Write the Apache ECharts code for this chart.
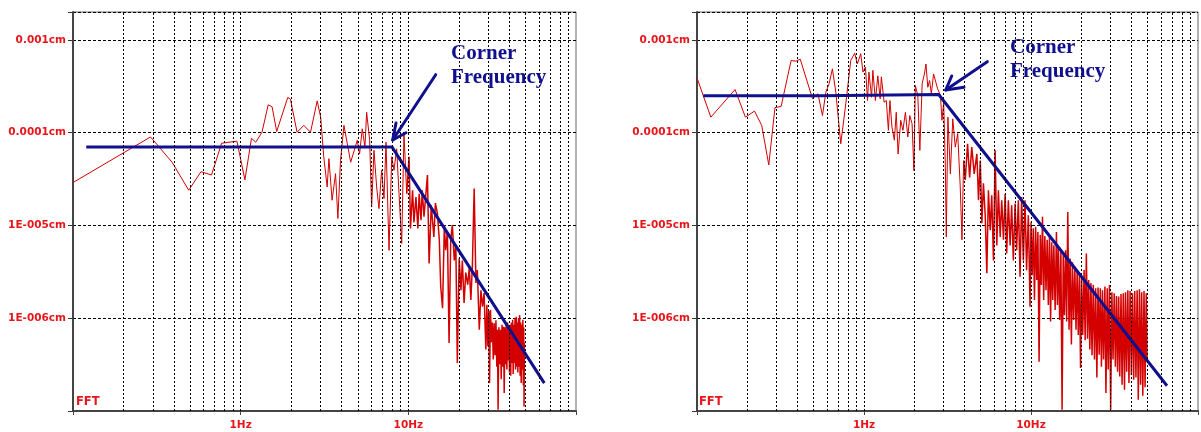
<!DOCTYPE html>
<html>
<head>
  <meta charset="utf-8" />
  <title>FFT Corner Frequency</title>
  <script src="https://cdn.jsdelivr.net/npm/echarts@6.0.0/dist/echarts.min.js"></script>
  <style>
    html, body { margin: 0; padding: 0; background: #ffffff; }
    #main { width: 1201px; height: 432px; }
  </style>
</head>
<body>
<div id="main"></div>
<script>
  // axis tick labels
  var xTickValues = [1, 10];
  var xTickLabels = ['1Hz', '10Hz'];
  var yTickValues = [1e-3, 1e-4, 1e-5, 1e-6];
  var yTickLabels = ['0.001cm', '0.0001cm', '1E-005cm', '1E-006cm'];
  // vertical grid: 1..9 of every decade
  var gridFreqs = [0.2, 0.3, 0.4, 0.5, 0.6, 0.7, 0.8, 0.9,
                   1, 2, 3, 4, 5, 6, 7, 8, 9,
                   10, 20, 30, 40, 50, 60, 70, 80, 90];

  // left record: FFT amplitude [Hz, cm]
  var leftSpectrum = [
    [0.1, 2.9e-5], [0.29, 9.0e-5], [0.39, 4.8e-5], [0.49, 2.4e-5], [0.58, 3.8e-5], [0.67, 3.5e-5],
    [0.77, 7.7e-5], [0.95, 8.1e-5], [1.06, 3.1e-5], [1.16, 8.7e-5], [1.23, 7.9e-5], [1.34, 1.01e-4],
    [1.46, 2.0e-4], [1.54, 1.9e-4], [1.64, 1.03e-4], [1.91, 2.4e-4], [1.98, 2.3e-4], [2.17, 1.01e-4],
    [2.38, 1.2e-4], [2.61, 1.01e-4], [2.86, 2.2e-4], [3.0, 1.47e-4], [3.13, 5.5e-5], [3.28, 2.6e-5],
    [3.36, 5.25e-5], [3.51, 1.87e-5], [3.68, 3.62e-5], [3.8, 1.19e-5], [3.94, 5.0e-5], [4.13, 1.2e-4],
    [4.53, 4.8e-5], [4.96, 8.3e-5], [5.12, 5.9e-5], [5.31, 1.1e-4], [5.51, 7.0e-5], [5.64, 1.66e-4],
    [5.88, 8.3e-5], [6.04, 1.58e-5], [6.24, 6.45e-5], [6.47, 2.6e-5], [6.68, 1.52e-5], [6.93, 3.94e-5],
    [7.16, 1.95e-5], [7.36, 7.9e-5], [7.67, 5.4e-6], [7.96, 5.5e-5], [8.21, 3.94e-5], [8.52, 6.7e-5],
    [8.8, 2.2e-5], [9.13, 6.4e-6], [9.42, 9.8e-5], [9.78, 2.2e-5], [10.1, 5.5e-5], [10.3, 9.3e-6],
    [10.6, 2.4e-5], [10.8, 1.08e-5], [11.1, 2.03e-5], [11.4, 9.3e-6], [11.6, 2.2e-5], [11.9, 1.14e-5],
    [12.1, 2.4e-5], [12.4, 1.24e-5], [13.0, 3.5e-5], [13.3, 3.9e-6], [13.7, 1.65e-5], [14.2, 7.5e-6],
    [14.5, 1.74e-5], [14.9, 1.36e-5], [15.3, 7.0e-6], [15.6, 2.2e-6], [16.0, 1.28e-6], [16.4, 1.01e-5],
    [16.7, 5.4e-6], [17.1, 8.5e-6], [17.5, 5.4e-7], [17.9, 7.0e-6], [18.3, 1.01e-5], [18.8, 4.2e-6],
    [19.2, 6.1e-6], [19.6, 3.3e-7], [20.1, 4.4e-6], [20.6, 2.0e-6], [21.0, 4.2e-6], [21.5, 1.46e-6],
    [22.0, 3.1e-6], [22.6, 2.3e-6], [23.1, 3.5e-6], [23.6, 1.57e-6], [24.1, 3.7e-6], [24.7, 2.5e-5],
    [25.3, 2.4e-6], [25.8, 3.3e-6], [26.5, 7.5e-7], [27.1, 2.0e-6], [27.7, 1.33e-6], [28.3, 1.87e-6],
    [29.0, 4.6e-7], [29.4, 1.4e-6], [29.8, 5.0e-7], [30.2, 1.2e-6], [30.5, 2.0e-7], [30.9, 1.23e-6],
    [31.3, 5.5e-7], [31.7, 9.0e-7], [32.1, 3.6e-7], [32.5, 8.8e-7], [32.9, 4.0e-7], [33.3, 9.5e-7],
    [33.7, 3.0e-7], [34.0, 7.5e-7], [34.3, 1.03e-7], [34.7, 8.0e-7], [35.1, 3.2e-7], [35.5, 7.5e-7],
    [35.8, 2.2e-7], [36.2, 8.5e-7], [36.6, 3.0e-7], [37.0, 8.1e-7], [37.3, 1.56e-7], [37.7, 8.0e-7],
    [38.0, 3.2e-7], [38.4, 8.5e-7], [38.7, 2.8e-7], [39.1, 9.0e-7], [39.4, 3.5e-7], [39.8, 7.5e-7],
    [40.1, 2.6e-7], [40.5, 8.5e-7], [40.8, 2.4e-7], [41.2, 9.0e-7], [41.5, 3.3e-7], [41.9, 9.6e-7],
    [42.2, 2.5e-7], [42.6, 8.5e-7], [42.9, 3.3e-7], [43.3, 1.0e-6], [43.6, 2.8e-7], [44.0, 1.04e-6],
    [44.3, 3.0e-7], [44.7, 9.0e-7], [45.0, 2.6e-7], [45.4, 1.0e-6], [45.7, 3.0e-7], [46.1, 1.08e-6],
    [46.4, 2.4e-7], [46.8, 9.0e-7], [47.1, 2.0e-7], [47.5, 8.5e-7], [47.8, 2.8e-7], [48.2, 9.6e-7],
    [48.5, 1.9e-7], [48.8, 8.0e-7], [49.0, 1.12e-7], [49.2, 5.4e-7]
  ];
  // left record: fitted source model (flat level + corner)
  var leftModel = [[0.12, 7.0e-5], [8.0, 7.0e-5], [64.7, 2.0e-7]];

  // right record: FFT amplitude [Hz, cm]
  var rightSpectrum = [
    [0.1, 3.9e-4], [0.121, 1.47e-4], [0.169, 2.92e-4], [0.195, 1.47e-4], [0.221, 1.71e-4], [0.244, 1.2e-4],
    [0.269, 4.5e-5], [0.293, 1.86e-4], [0.319, 1.92e-4], [0.366, 6.0e-4], [0.392, 5.9e-4], [0.415, 6.2e-4],
    [0.492, 2.32e-4], [0.53, 2.63e-4], [0.564, 1.53e-4], [0.591, 2.73e-4], [0.618, 3.37e-4], [0.647, 4.88e-4],
    [0.678, 2.73e-4], [0.726, 7.6e-5], [0.778, 2.05e-4], [0.833, 6.0e-4], [0.88, 7.2e-4], [0.912, 5.5e-4],
    [0.956, 7.1e-4], [0.986, 4.5e-4], [1.02, 5.1e-4], [1.05, 2.22e-4], [1.07, 4.5e-4], [1.11, 2.41e-4],
    [1.13, 4.7e-4], [1.17, 2.22e-4], [1.21, 4.1e-4], [1.25, 2.32e-4], [1.27, 4.0e-4], [1.32, 2.13e-4],
    [1.36, 2.22e-4], [1.4, 1.06e-4], [1.43, 2.22e-4], [1.47, 1.15e-4], [1.52, 8.3e-5], [1.56, 1.66e-4],
    [1.6, 5.9e-5], [1.66, 1.36e-4], [1.71, 1.06e-4], [1.77, 1.66e-4], [1.83, 9.0e-5], [1.88, 1.53e-4],
    [1.94, 1.25e-4], [1.99, 3.9e-5], [2.03, 3.23e-4], [2.1, 2.52e-4], [2.16, 6.45e-5], [2.23, 3.37e-4],
    [2.3, 4.3e-4], [2.35, 5.5e-4], [2.41, 3.09e-4], [2.47, 3.65e-4], [2.53, 2.63e-4], [2.61, 4.3e-4],
    [2.68, 4.5e-4], [2.76, 2.97e-4], [2.87, 2.52e-4], [2.93, 1.36e-4], [3.0, 2.13e-4], [3.07, 4.3e-5],
    [3.11, 7.5e-6], [3.18, 1.47e-4], [3.29, 3.6e-5], [3.4, 1.41e-4], [3.52, 7.0e-5], [3.64, 9.8e-5],
    [3.77, 2.6e-5], [3.86, 7.0e-6], [3.95, 5.0e-5], [4.04, 3.1e-5], [4.17, 7.6e-5], [4.29, 3.3e-5],
    [4.42, 7.0e-5], [4.57, 3.6e-5], [4.74, 5.9e-5], [4.85, 1.87e-5], [4.97, 5.0e-5], [5.08, 1.06e-5],
    [5.19, 2.85e-5], [5.32, 1.29e-5], [5.44, 3.05e-6], [5.56, 2.4e-5], [5.7, 8.9e-6], [5.82, 2.12e-5],
    [5.96, 4.2e-6], [6.1, 6.45e-5], [6.24, 6.1e-6], [6.38, 2.4e-5], [6.54, 7.5e-6], [6.68, 1.87e-5],
    [6.84, 7.0e-6], [7.0, 2.2e-5], [7.15, 5.0e-6], [7.32, 1.87e-5], [7.5, 6.1e-6], [7.66, 1.65e-5],
    [7.84, 4.2e-6], [8.03, 1.72e-5], [8.2, 5.4e-6], [8.4, 1.87e-5], [8.6, 2.8e-6], [8.79, 2.03e-5],
    [9.0, 4.2e-6], [9.21, 1.87e-5], [9.41, 3.3e-6], [9.64, 1.29e-5], [9.87, 1.33e-6],
    [10.0, 1.08e-5], [10.16, 2.9e-6], [10.32, 9.3e-6], [10.49, 1.57e-6], [10.66, 9.7e-6], [10.83, 2.58e-6],
    [11.0, 8.5e-6], [11.18, 3.4e-7], [11.36, 7.9e-6], [11.54, 2.28e-6], [11.72, 1.24e-5], [11.91, 1.57e-6],
    [12.1, 7.7e-6], [12.3, 2.0e-6], [12.5, 7.0e-6], [12.7, 1.39e-6], [12.9, 7.5e-6], [13.1, 9.2e-7],
    [13.3, 6.6e-6], [13.5, 1.57e-6], [13.7, 6.1e-6], [13.95, 1.23e-6], [14.2, 8.5e-6], [14.4, 1.39e-6],
    [14.6, 5.7e-6], [14.85, 9.6e-7], [15.1, 5.4e-6], [15.35, 1.03e-7], [15.6, 4.8e-6], [15.85, 1.08e-6],
    [16.1, 5.4e-6], [16.35, 9.2e-7], [16.6, 1.4e-5], [16.9, 7.5e-7], [17.15, 4.4e-6], [17.45, 5.2e-7],
    [17.7, 4.0e-6], [18.0, 9.6e-7], [18.3, 3.6e-6], [18.6, 7.5e-7], [18.9, 3.3e-6], [19.2, 6.6e-7],
    [19.5, 3.1e-6], [19.8, 2.9e-7], [20.1, 2.7e-6], [20.4, 6.6e-7], [20.8, 3.3e-6], [21.1, 5.8e-7],
    [21.45, 5.0e-6], [21.8, 6.0e-7], [22.15, 2.58e-6], [22.5, 4.6e-7], [22.85, 2.4e-6], [23.2, 4.0e-7],
    [23.6, 2.3e-6], [24.0, 3.6e-7], [24.4, 2.1e-6], [24.8, 2.3e-7], [25.2, 2.15e-6], [25.6, 4.05e-7],
    [26.0, 2.1e-6], [26.4, 3.0e-7], [26.8, 2.0e-6], [27.2, 3.6e-7], [27.7, 2.2e-6], [28.1, 1.56e-7],
    [28.6, 2.1e-6], [29.0, 2.8e-7], [29.5, 2.28e-6], [30.0, 1.03e-7], [30.5, 1.9e-6], [31.0, 3.6e-7],
    [31.5, 1.86e-6], [32.0, 3.0e-7], [32.5, 1.74e-6], [33.0, 2.65e-7], [33.5, 1.71e-6], [34.0, 2.36e-7],
    [34.6, 1.82e-6], [35.1, 1.92e-7], [35.7, 1.86e-6], [36.3, 1.7e-7], [36.8, 1.9e-6], [37.4, 2.65e-7],
    [38.0, 2.0e-6], [38.6, 2.0e-7], [39.2, 1.96e-6], [39.9, 2.45e-7], [40.5, 1.86e-6], [41.2, 2.17e-7],
    [41.8, 1.96e-6], [42.5, 2.3e-7], [43.2, 2.0e-6], [43.9, 1.32e-7], [44.6, 2.05e-6], [45.3, 1.92e-7],
    [46.0, 1.9e-6], [46.7, 1.46e-7], [47.5, 1.96e-6], [48.2, 1.8e-7], [49.0, 1.86e-6], [49.5, 3.6e-7]
  ];
  // right record: fitted source model
  var rightModel = [[0.109, 2.5e-4], [0.55, 2.5e-4], [0.55, 2.58e-4], [2.8, 2.58e-4], [65.2, 1.87e-7]];

  var cornerWords = ['Corner', 'Frequency'];
  var panelTag = 'FFT';

  var RED = '#e8161b';
  var BLUE = '#10108f';
  var TRACE = '#d40000';

  function pickLabel(values, labels, v) {
    for (var i = 0; i < values.length; i++) {
      if (Math.abs(Math.log10(v) - Math.log10(values[i])) < 0.01) return labels[i];
    }
    return '';
  }

  var labelFont = { color: RED, fontWeight: 'bold', fontSize: 10.5, fontFamily: 'DejaVu Sans' };

  function makeXAxis(idx) {
    return {
      type: 'log', logBase: 10, gridIndex: idx, min: 0.1, max: 100,
      axisLine: { show: true, onZero: false, lineStyle: { color: '#444', width: 2 } },
      axisTick: { show: true, length: 4, lineStyle: { color: '#444' } },
      axisLabel: Object.assign({ margin: 9, formatter: function (v) { return pickLabel(xTickValues, xTickLabels, v); } }, labelFont),
      splitLine: { show: false }
    };
  }
  function makeYAxis(idx) {
    return {
      type: 'log', logBase: 10, gridIndex: idx, min: 1e-7, max: 0.002,
      axisLine: { show: true, onZero: false, lineStyle: { color: '#444', width: 2 } },
      axisTick: { show: true, length: 5, lineStyle: { color: '#333' } },
      axisLabel: Object.assign({ margin: 7, formatter: function (v) { return pickLabel(yTickValues, yTickLabels, v); } }, labelFont),
      splitLine: { show: true, lineStyle: { color: '#000', type: [3, 2], width: 1 } }
    };
  }
  // the high-frequency part of an FFT is a packed band: draw it a bit heavier
  function makeSeries(idx, spectrum, model, denseFrom) {
    var sparse = spectrum.filter(function (p) { return p[0] <= denseFrom; });
    var dense = spectrum.filter(function (p) { return p[0] >= sparse[sparse.length - 1][0]; });
    return [
      {
        type: 'line', xAxisIndex: idx, yAxisIndex: idx, data: [], silent: true, z: 1,
        markLine: {
          silent: true, symbol: ['none', 'none'], label: { show: false },
          lineStyle: { color: '#000', type: [2, 2], width: 1 },
          emphasis: { disabled: true },
          data: gridFreqs.map(function (f) { return { xAxis: f }; })
        }
      },
      {
        type: 'line', xAxisIndex: idx, yAxisIndex: idx, data: sparse, showSymbol: false, silent: true, z: 3,
        lineStyle: { color: TRACE, width: 1 }
      },
      {
        type: 'line', xAxisIndex: idx, yAxisIndex: idx, data: dense, showSymbol: false, silent: true, z: 3,
        lineStyle: { color: TRACE, width: 1.5 }
      },
      {
        type: 'line', xAxisIndex: idx, yAxisIndex: idx, data: model, showSymbol: false, silent: true, z: 4,
        lineStyle: { color: BLUE, width: 3 }
      }
    ];
  }

  function textEl(str, x, y, font, fill) {
    return { type: 'text', x: x, y: y, z: 10, silent: true,
      style: { text: str, font: font, fill: fill, verticalAlign: 'middle', align: 'left' } };
  }
  function lineEl(points) {
    return { type: 'polyline', z: 10, silent: true,
      shape: { points: points },
      style: { stroke: BLUE, lineWidth: 3, fill: null, lineCap: 'round', lineJoin: 'round' } };
  }

  var serif = 'bold 21px "Liberation Serif", "Times New Roman", serif';
  var tagFont = 'bold 11.5px "DejaVu Sans", sans-serif';

  var chart = echarts.init(document.getElementById('main'));
  chart.setOption({
    animation: false,
    backgroundColor: '#ffffff',
    grid: [
      { left: 73, top: 12, width: 503, height: 399, show: true, borderColor: '#666', borderWidth: 1 },
      { left: 697, top: 12, width: 503, height: 399, show: true, borderColor: '#666', borderWidth: 1 }
    ],
    xAxis: [makeXAxis(0), makeXAxis(1)],
    yAxis: [makeYAxis(0), makeYAxis(1)],
    series: makeSeries(0, leftSpectrum, leftModel, 10).concat(makeSeries(1, rightSpectrum, rightModel, 4)),
    graphic: [
      // left panel annotation
      textEl(cornerWords[0], 451, 53.5, serif, BLUE),
      textEl(cornerWords[1], 451, 77.5, serif, BLUE),
      lineEl([[435.7, 74.7], [392.7, 140]]),
      lineEl([[396, 123], [392.7, 140], [406, 132.7]]),
      textEl(panelTag, 76, 402, tagFont, RED),
      // right panel annotation
      textEl(cornerWords[0], 1010, 48, serif, BLUE),
      textEl(cornerWords[1], 1010, 71.7, serif, BLUE),
      lineEl([[987.3, 61.7], [945.7, 90]]),
      lineEl([[951.7, 76], [945.7, 90], [964, 87.3]]),
      textEl(panelTag, 699, 402, tagFont, RED)
    ]
  });
</script>
</body>
</html>
